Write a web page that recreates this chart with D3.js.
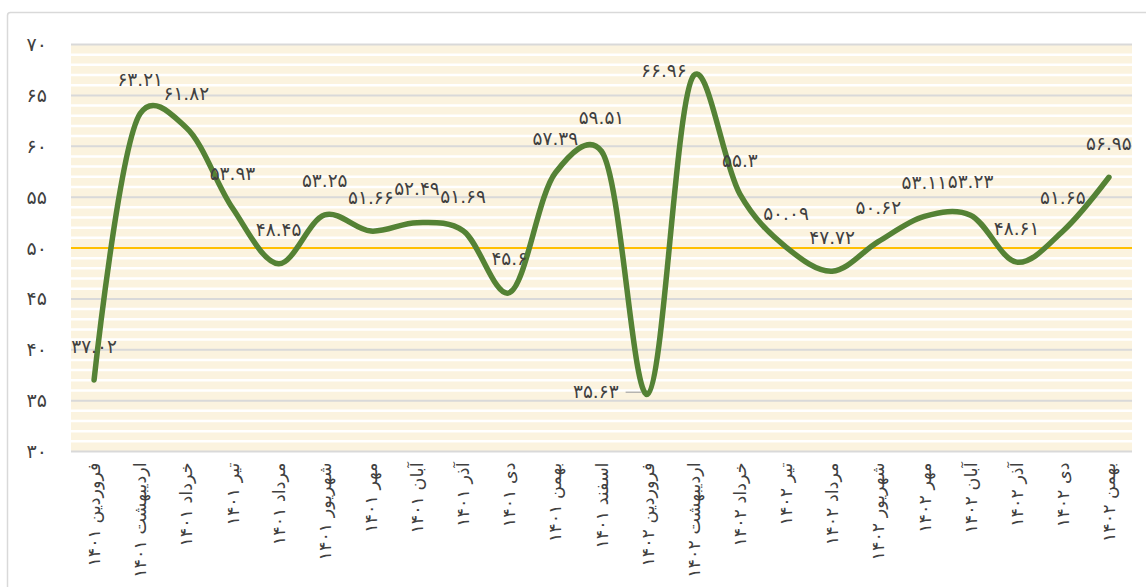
<!DOCTYPE html>
<html>
<head>
<meta charset="utf-8">
<script src="https://cdn.jsdelivr.net/npm/d3@7"></script>
<style>
  html, body { margin: 0; padding: 0; background: #fff; }
  svg { display: block; font-family: "DejaVu Sans", sans-serif; }
</style>
</head>
<body>
<svg id="chart" width="1146" height="587"></svg>
<script>
// Monthly index, 1401–1402 (Persian calendar)
const months = [
  "فروردین ۱۴۰۱", "اردیبهشت ۱۴۰۱", "خرداد ۱۴۰۱", "تیر ۱۴۰۱", "مرداد ۱۴۰۱", "شهریور ۱۴۰۱",
  "مهر ۱۴۰۱", "آبان ۱۴۰۱", "آذر ۱۴۰۱", "دی ۱۴۰۱", "بهمن ۱۴۰۱", "اسفند ۱۴۰۱",
  "فروردین ۱۴۰۲", "اردیبهشت ۱۴۰۲", "خرداد ۱۴۰۲", "تیر ۱۴۰۲", "مرداد ۱۴۰۲", "شهریور ۱۴۰۲",
  "مهر ۱۴۰۲", "آبان ۱۴۰۲", "آذر ۱۴۰۲", "دی ۱۴۰۲", "بهمن ۱۴۰۲"
];
const values = [
  37.02, 63.21, 61.82, 53.93, 48.45, 53.25, 51.66, 52.49, 51.69, 45.6, 57.39, 59.51,
  35.63, 66.96, 55.3, 50.09, 47.72, 50.62, 53.11, 53.23, 48.61, 51.65, 56.95
];
const yTicks = [30, 35, 40, 45, 50, 55, 60, 65, 70];
const threshold = 50;
// where each value label sits relative to its point
const labelPlacement = months.map((m, i) => i === 12 ? "leftLeader" : i === 13 ? "left" : "above");

const faDigits = "۰۱۲۳۴۵۶۷۸۹";
const toFa = s => String(s).replace(/[0-9]/g, d => faDigits[+d]);

const svg = d3.select("#chart");
const plot = { left: 71, right: 1132, top: 44.5, bottom: 451.5 };

// outer chart frame
svg.append("rect")
  .attr("x", 7.5).attr("y", 12.5)
  .attr("width", 1150).attr("height", 620)
  .attr("rx", 3)
  .attr("fill", "#fff").attr("stroke", "#d9d9d9").attr("stroke-width", 1.5);

const x = d3.scaleBand().domain(months).range([plot.left, plot.right]).padding(0);
const y = d3.scaleLinear().domain([30, 70]).range([plot.bottom, plot.top]);

// plot background
svg.append("rect")
  .attr("x", plot.left).attr("y", plot.top)
  .attr("width", plot.right - plot.left).attr("height", plot.bottom - plot.top)
  .attr("fill", "#fbf3df");

// minor grid (every unit)
svg.append("g")
  .selectAll("line")
  .data(d3.range(31, 70).filter(v => v % 5 !== 0))
  .join("line")
  .attr("x1", plot.left).attr("x2", plot.right)
  .attr("y1", d => y(d)).attr("y2", d => y(d))
  .attr("stroke", "#ffffff").attr("stroke-width", 2.5);

// major grid
svg.append("g")
  .selectAll("line")
  .data(yTicks.filter(v => v !== threshold))
  .join("line")
  .attr("x1", plot.left).attr("x2", plot.right)
  .attr("y1", d => y(d)).attr("y2", d => y(d))
  .attr("stroke", "#d9d9d9").attr("stroke-width", 2);

// reference line at 50
svg.append("line")
  .attr("x1", plot.left).attr("x2", plot.right)
  .attr("y1", y(threshold)).attr("y2", y(threshold))
  .attr("stroke", "#ffc000").attr("stroke-width", 2);

// y axis labels
const yAxis = svg.append("g")
  .attr("transform", `translate(${plot.left},0)`)
  .call(d3.axisLeft(y).tickValues(yTicks).tickSize(0).tickPadding(24).tickFormat(d => toFa(d)));
yAxis.select(".domain").remove();
yAxis.selectAll("text")
  .attr("font-size", 19)
  .attr("fill", "#404040")
  .attr("font-family", "DejaVu Sans, sans-serif");

// x axis labels, rotated
const xAxis = svg.append("g")
  .attr("transform", `translate(0,${plot.bottom})`)
  .call(d3.axisBottom(x).tickSize(0).tickPadding(0));
xAxis.select(".domain").remove();
xAxis.selectAll("text")
  .attr("font-size", 17.5)
  .attr("fill", "#404040")
  .attr("font-family", "DejaVu Sans, sans-serif")
  .attr("text-anchor", "end")
  .attr("transform", "translate(0,11) rotate(-90)")
  .attr("x", 0).attr("y", 0).attr("dy", "0.35em");

// smoothed series line
const line = d3.line()
  .x(d => x(d.m) + x.bandwidth() / 2)
  .y(d => y(d.v))
  .curve(d3.curveCatmullRom.alpha(0.25));
const pts = months.map((m, i) => ({ m, v: values[i], p: labelPlacement[i] }));

svg.append("path")
  .datum(pts)
  .attr("d", line)
  .attr("fill", "none")
  .attr("stroke", "#548235")
  .attr("stroke-width", 5.5)
  .attr("stroke-linecap", "round")
  .attr("stroke-linejoin", "round");

// value labels
const labels = svg.append("g")
  .attr("font-size", 18.5)
  .attr("fill", "#404040");

pts.forEach(d => {
  const px = x(d.m) + x.bandwidth() / 2, py = y(d.v);
  const txt = toFa(d.v);
  if (d.p === "above") {
    labels.append("text")
      .attr("x", px).attr("y", py - 34)
      .attr("dy", "0.35em")
      .attr("text-anchor", "middle")
      .text(txt);
  } else if (d.p === "left") {
    labels.append("text")
      .attr("x", px - 7).attr("y", py - 5)
      .attr("dy", "0.35em")
      .attr("text-anchor", "end")
      .text(txt);
  } else {
    svg.append("line")
      .attr("x1", px - 22).attr("x2", px - 6)
      .attr("y1", py - 2).attr("y2", py - 2)
      .attr("stroke", "#a6a6a6").attr("stroke-width", 1.2);
    labels.append("text")
      .attr("x", px - 29).attr("y", py - 3)
      .attr("dy", "0.35em")
      .attr("text-anchor", "end")
      .text(txt);
  }
});
</script>
</body>
</html>
